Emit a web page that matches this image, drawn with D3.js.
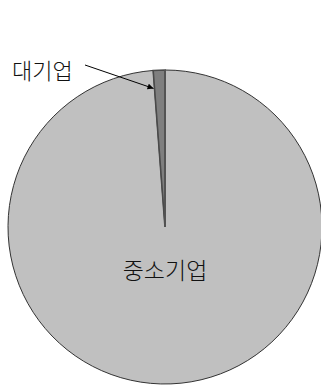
<!DOCTYPE html>
<head>
<meta charset="utf-8">
<script src="https://d3js.org/d3.v7.min.js"></script>
<style>
body { margin:0; background:#fff; }
.lbl { font-family: "Noto Sans CJK KR", sans-serif; font-weight: 300; fill:#111; }
</style>
</head>
<body>
<script>
// categories and shares (%)
var categories = ['중소기업', '대기업'];
var shares = [98.8, 1.2];
var colors = ['#c0c0c0', '#7f7f7f'];

var width = 321, height = 385;
var cx = 165, cy = 227, radius = 157;

var svg = d3.select("body").append("svg")
    .attr("width", width)
    .attr("height", height);

svg.append("defs").append("marker")
    .attr("id", "arrow")
    .attr("viewBox", "0 0 10 10")
    .attr("refX", 10).attr("refY", 5)
    .attr("markerWidth", 7).attr("markerHeight", 6)
    .attr("orient", "auto")
  .append("path")
    .attr("d", "M0,0L10,5L0,10z")
    .attr("fill", "#000");

var g = svg.append("g")
    .attr("transform", "translate(" + cx + "," + cy + ")");

var data = categories.map((c, i) => ({name: c, value: shares[i], color: colors[i]}));

var pie = d3.pie().sort(null).value(d => d.value);
var arc = d3.arc().innerRadius(0).outerRadius(radius);
var arcs = pie(data);

g.selectAll("path.slice")
  .data(arcs)
  .enter().append("path")
    .attr("class", "slice")
    .attr("d", arc)
    .attr("fill", d => d.data.color)
    .attr("stroke", (d, i) => i === 1 ? "#4a4a4a" : "#333")
    .attr("stroke-width", (d, i) => i === 1 ? 1.6 : 1);

// thin edge at the start of the pie (12 o'clock)
g.append("line")
    .attr("x1", 0).attr("y1", 0)
    .attr("x2", 0).attr("y2", -radius)
    .attr("stroke", "#555")
    .attr("stroke-width", 1.5);

// label inside the big slice
g.append("text")
    .attr("class", "lbl")
    .attr("x", 0).attr("y", 52)
    .attr("text-anchor", "middle")
    .style("font-size", "23px")
    .text(categories[0]);

// label for the small slice with arrow pointing at its left edge
var small = arcs[1];
var tipR = radius * 0.885;
var tip = [Math.sin(small.startAngle) * tipR - 1, -Math.cos(small.startAngle) * tipR];

g.append("text")
    .attr("class", "lbl")
    .attr("x", -153).attr("y", -148)
    .style("font-size", "22px")
    .text(categories[1]);

g.append("line")
    .attr("x1", -80).attr("y1", -162)
    .attr("x2", tip[0]).attr("y2", tip[1])
    .attr("stroke", "#000")
    .attr("stroke-width", 1)
    .attr("marker-end", "url(#arrow)");
</script>
</body>
